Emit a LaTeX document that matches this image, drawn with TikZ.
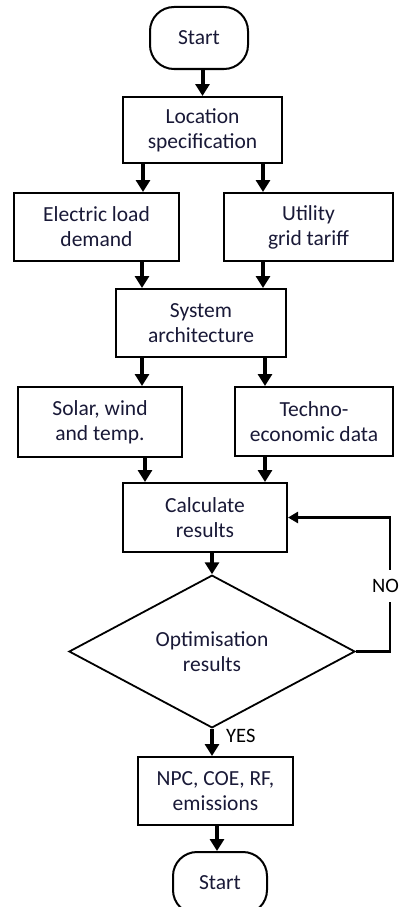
\documentclass[tikz,border=0pt]{standalone}
\usepackage{fontspec}
\setmainfont{Carlito}
\usetikzlibrary{arrows.meta,shapes.geometric,calc}
\definecolor{txt}{RGB}{25,25,55}
\begin{document}
\begin{tikzpicture}[x=1pt,y=-1pt,
  box/.style={draw=black,line width=2pt,fill=white,minimum height=68pt,align=center,text=txt,font=\fontsize{21.5}{25}\selectfont,inner sep=0pt},
  term/.style={box,rounded corners=24pt},
  arr/.style={line width=4pt,-{Triangle[width=14pt,length=12pt]}},
  loopl/.style={line width=2.5pt},
  lbl/.style={font=\fontsize{20.5}{24}\selectfont,text=black}]
\useasboundingbox (0,0) rectangle (400,907);
\clip (0,0) rectangle (400,907);
\node[term,minimum width=98pt,minimum height=62pt] (start) at (199,38) {Start};
\node[box,minimum width=159pt,minimum height=66pt] (loc) at (202.5,130) {Location\\specification};
\node[box,minimum width=165pt] (elec) at (96.5,227) {Electric load\\demand};
\node[box,minimum width=169pt] (util) at (308.5,227) {Utility\\grid tariff};
\node[box,minimum width=170pt] (sys) at (201,323) {System\\architecture};
\node[box,minimum width=164pt,minimum height=70pt] (solar) at (100,422) {Solar, wind\\and temp.};
\node[box,minimum width=158pt,minimum height=69pt] (techno) at (314,421.5) {Techno-\\economic data};
\node[box,minimum width=164pt,minimum height=69pt] (calc) at (205,517.5) {Calculate\\results};
\node[draw=black,line width=1.8pt,diamond,minimum width=286pt,minimum height=147pt,fill=white,align=center,text=txt,font=\fontsize{21.5}{25}\selectfont,inner sep=0pt] (dia) at (212,651.5) {Optimisation\\results};
\node[box,minimum width=155pt] (npc) at (215.5,791) {NPC, COE, RF,\\emissions};
\node[term,minimum width=94pt,minimum height=62pt] (end) at (220,883) {Start};
% arrows
\draw[arr] (loc.north |- start.south) -- (loc.north);
\draw[arr] ([xshift=-59.5pt]loc.south) -- ([xshift=-59.5pt]loc.south |- elec.north);
\draw[arr] ([xshift=60.5pt]loc.south) -- ([xshift=60.5pt]loc.south |- util.north);
\draw[arr] ([xshift=-59pt]sys.north |- elec.south) -- ([xshift=-59pt]sys.north);
\draw[arr] ([xshift=62pt]sys.north |- util.south) -- ([xshift=62pt]sys.north);
\draw[arr] ([xshift=-59pt]sys.south) -- ([xshift=-59pt]sys.south |- solar.north);
\draw[arr] ([xshift=64pt]sys.south) -- ([xshift=64pt]sys.south |- techno.north);
\draw[arr] ([xshift=-60pt]calc.north |- solar.south) -- ([xshift=-60pt]calc.north);
\draw[arr] ([xshift=60pt]calc.north |- techno.south) -- ([xshift=60pt]calc.north);
\draw[arr] (dia.north |- calc.south) -- (dia.north);
\draw[arr] (dia.south) -- (dia.south |- npc.north);
\draw[arr] ([xshift=1.5pt]npc.south) -- ([xshift=1.5pt]npc.south |- end.north);
% loop
\coordinate (lp) at (390,517.5);
\draw[loopl,-{Triangle[width=11pt,length=10pt]}] (dia.east) -| (lp) -- (calc.east);
\node[lbl,fill=white,inner xsep=1pt,inner ysep=9pt] (no) at (385.5,586) {NO};
\node[lbl,anchor=west,inner sep=0pt] (yes) at (226,736) {YES};
\end{tikzpicture}
\end{document}
